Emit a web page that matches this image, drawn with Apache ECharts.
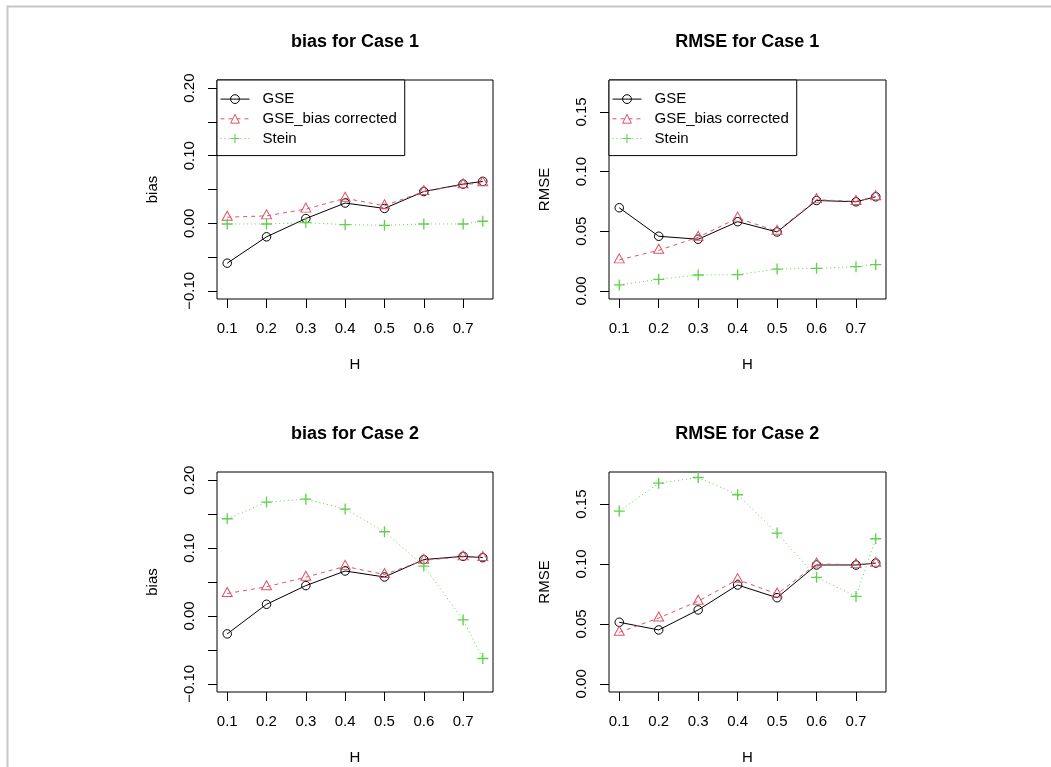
<!DOCTYPE html>
<html>
<head>
<meta charset="utf-8">
<script src="https://cdn.jsdelivr.net/npm/echarts@6/dist/echarts.min.js"></script>
<style>
html,body{margin:0;padding:0;background:#fff;}
#chart{width:1051px;height:767px;}
</style>
</head>
<body>
<div id="chart"></div>
<script>
// ---- data ----
var H = [0.1, 0.2, 0.3, 0.4, 0.5, 0.6, 0.7, 0.75];
var xTicks = [0.1, 0.2, 0.3, 0.4, 0.5, 0.6, 0.7];
var biasTicks = [-0.1, -0.05, 0, 0.05, 0.1, 0.15, 0.2];
var biasLabels = [-0.1, 0, 0.1, 0.2];
var rmseTicks = [0, 0.05, 0.1, 0.15];
var rmseLabels = [0, 0.05, 0.1, 0.15];
var seriesNames = ['GSE', 'GSE_bias corrected', 'Stein'];
var panelTitles = ['bias for Case 1', 'RMSE for Case 1', 'bias for Case 2', 'RMSE for Case 2'];
var yNames = ['bias', 'RMSE', 'bias', 'RMSE'];

var bias1_GSE   = [-0.059, -0.020, 0.007, 0.030, 0.022, 0.047, 0.058, 0.062];
var bias1_BC    = [0.009, 0.011, 0.021, 0.037, 0.026, 0.047, 0.057, 0.060];
var bias1_Stein = [-0.001, -0.001, 0.001, -0.002, -0.003, -0.001, -0.001, 0.003];

var rmse1_GSE   = [0.0697, 0.0458, 0.0433, 0.058, 0.0494, 0.0758, 0.0747, 0.0789];
var rmse1_BC    = [0.026, 0.034, 0.045, 0.061, 0.050, 0.0765, 0.075, 0.079];
var rmse1_Stein = [0.005, 0.0097, 0.0133, 0.0136, 0.0183, 0.0189, 0.0203, 0.022];

var bias2_GSE   = [-0.0264, 0.0172, 0.0447, 0.0662, 0.0574, 0.083, 0.0878, 0.0859];
var bias2_BC    = [0.033, 0.043, 0.057, 0.073, 0.061, 0.082, 0.087, 0.086];
var bias2_Stein = [0.1432, 0.1677, 0.172, 0.1574, 0.124, 0.0735, -0.0059, -0.0627];

var rmse2_GSE   = [0.0514, 0.045, 0.0617, 0.0825, 0.0719, 0.0992, 0.0992, 0.1008];
var rmse2_BC    = [0.043, 0.055, 0.069, 0.087, 0.075, 0.100, 0.0995, 0.1006];
var rmse2_Stein = [0.1442, 0.1675, 0.1722, 0.1578, 0.1258, 0.0889, 0.073, 0.1211];

var panels = [
  [bias1_GSE, bias1_BC, bias1_Stein],
  [rmse1_GSE, rmse1_BC, rmse1_Stein],
  [bias2_GSE, bias2_BC, bias2_Stein],
  [rmse2_GSE, rmse2_BC, rmse2_Stein]
];

// ---- styling / layout ----
var FONT = '"Liberation Sans", Arial, Helvetica, sans-serif';
var COLORS = ['#000000', '#DF536B', '#61D04F'];
var grids = [
  {left: 217, top: 80, width: 276, height: 219},
  {left: 609, top: 80, width: 277, height: 219},
  {left: 217, top: 472, width: 276, height: 220},
  {left: 609, top: 472, width: 277, height: 220}
];
var titleCenters = [[355, 32.7], [747.3, 32.7], [355, 424.7], [747.3, 424.7]];
var isBias = [true, false, true, false];

function pairs(v) { return H.map(function (h, i) { return [h, v[i]]; }); }
function yfmt(v) {
  var s = Math.abs(v).toFixed(2);
  return (v < -1e-9 ? '\u2212' : '') + s;
}

var PLUS = 'path://M4.4,0H5.6V4.4H10V5.6H5.6V10H4.4V5.6H0V4.4H4.4Z';

var option = {
  animation: false,
  backgroundColor: '#fff',
  textStyle: {fontFamily: FONT},
  title: panelTitles.map(function (t, i) {
    return {
      text: t, left: titleCenters[i][0], top: titleCenters[i][1], textAlign: 'center', padding: 0,
      textStyle: {fontFamily: FONT, fontSize: 18, fontWeight: 'bold', color: '#000'}
    };
  }),
  grid: grids.map(function (g) {
    return {left: g.left, top: g.top, width: g.width, height: g.height, show: true,
            borderColor: '#000', borderWidth: 1, backgroundColor: 'transparent', containLabel: false};
  }),
  xAxis: grids.map(function (g, i) {
    return {
      type: 'value', gridIndex: i, min: 0.074, max: 0.776, position: 'bottom',
      name: 'H', nameLocation: 'middle', nameGap: 58,
      nameTextStyle: {fontFamily: FONT, fontSize: 15, color: '#000'},
      axisLine: {show: false, onZero: false},
      axisTick: {show: true, length: 9, inside: false, customValues: xTicks, lineStyle: {color: '#000', width: 1}},
      axisLabel: {show: true, margin: 22, customValues: xTicks, fontFamily: FONT, fontSize: 15, color: '#000',
                  formatter: function (v) { return v.toFixed(1); }},
      splitLine: {show: false}
    };
  }),
  yAxis: grids.map(function (g, i) {
    var b = isBias[i];
    return {
      type: 'value', gridIndex: i, position: 'left',
      min: b ? -0.112 : -0.0068, max: b ? 0.212 : 0.1768,
      name: yNames[i], nameLocation: 'middle', nameGap: 56.5,
      nameTextStyle: {fontFamily: FONT, fontSize: 15, color: '#000'},
      axisLine: {show: false, onZero: false},
      axisTick: {show: true, length: 9, inside: false, customValues: b ? biasTicks : rmseTicks, lineStyle: {color: '#000', width: 1}},
      axisLabel: {show: true, rotate: 90, margin: 20, customValues: b ? biasLabels : rmseLabels,
                  fontFamily: FONT, fontSize: 15, color: '#000', formatter: yfmt},
      splitLine: {show: false}
    };
  }),
  legend: [0, 1].map(function (i) {
    return {
      data: seriesNames, orient: 'vertical', left: grids[i].left, top: grids[i].top,
      itemWidth: 29, itemHeight: 11, itemGap: 4.7,
      padding: [11.6, 8, 9.6, 3],
      borderColor: '#000', borderWidth: 1, backgroundColor: '#fff',
      selectedMode: false,
      lineStyle: {width: 1},
      itemStyle: {borderWidth: 1},
      textStyle: {fontFamily: FONT, fontSize: 15, color: '#000', padding: [0, 0, 0, 8]}
    };
  }),
  graphic: [{
    type: 'rect', left: 5, top: 4, silent: true, z: -10,
    shape: {x: 0, y: 0, width: 1200, height: 1000},
    style: {fill: 'none', stroke: '#c8c8c8', lineWidth: 2}
  }],
  series: []
};

panels.forEach(function (p, i) {
  // GSE
  option.series.push({
    name: seriesNames[0], type: 'line', xAxisIndex: i, yAxisIndex: i, data: pairs(p[0]),
    symbol: 'circle', symbolSize: 8.5,
    lineStyle: {color: COLORS[0], width: 1, type: 'solid'},
    itemStyle: {color: 'rgba(0,0,0,0)', borderColor: COLORS[0], borderWidth: 1},
    emphasis: {disabled: true}
  });
  // bias corrected
  option.series.push({
    name: seriesNames[1], type: 'line', xAxisIndex: i, yAxisIndex: i, data: pairs(p[1]),
    symbol: 'triangle', symbolSize: [10, 9], symbolOffset: [0, -1.5],
    lineStyle: {color: COLORS[1], width: 1, type: [4, 4]},
    itemStyle: {color: 'rgba(0,0,0,0)', borderColor: COLORS[1], borderWidth: 1},
    emphasis: {disabled: true}
  });
  // Stein
  option.series.push({
    name: seriesNames[2], type: 'line', xAxisIndex: i, yAxisIndex: i, data: pairs(p[2]),
    symbol: PLUS, symbolSize: 11,
    lineStyle: {color: COLORS[2], width: 1, type: [1, 3]},
    itemStyle: {color: COLORS[2], borderWidth: 0},
    emphasis: {disabled: true}
  });
});

var chart = echarts.init(document.getElementById('chart'), null, {renderer: 'canvas'});
chart.setOption(option);
</script>
</body>
</html>
